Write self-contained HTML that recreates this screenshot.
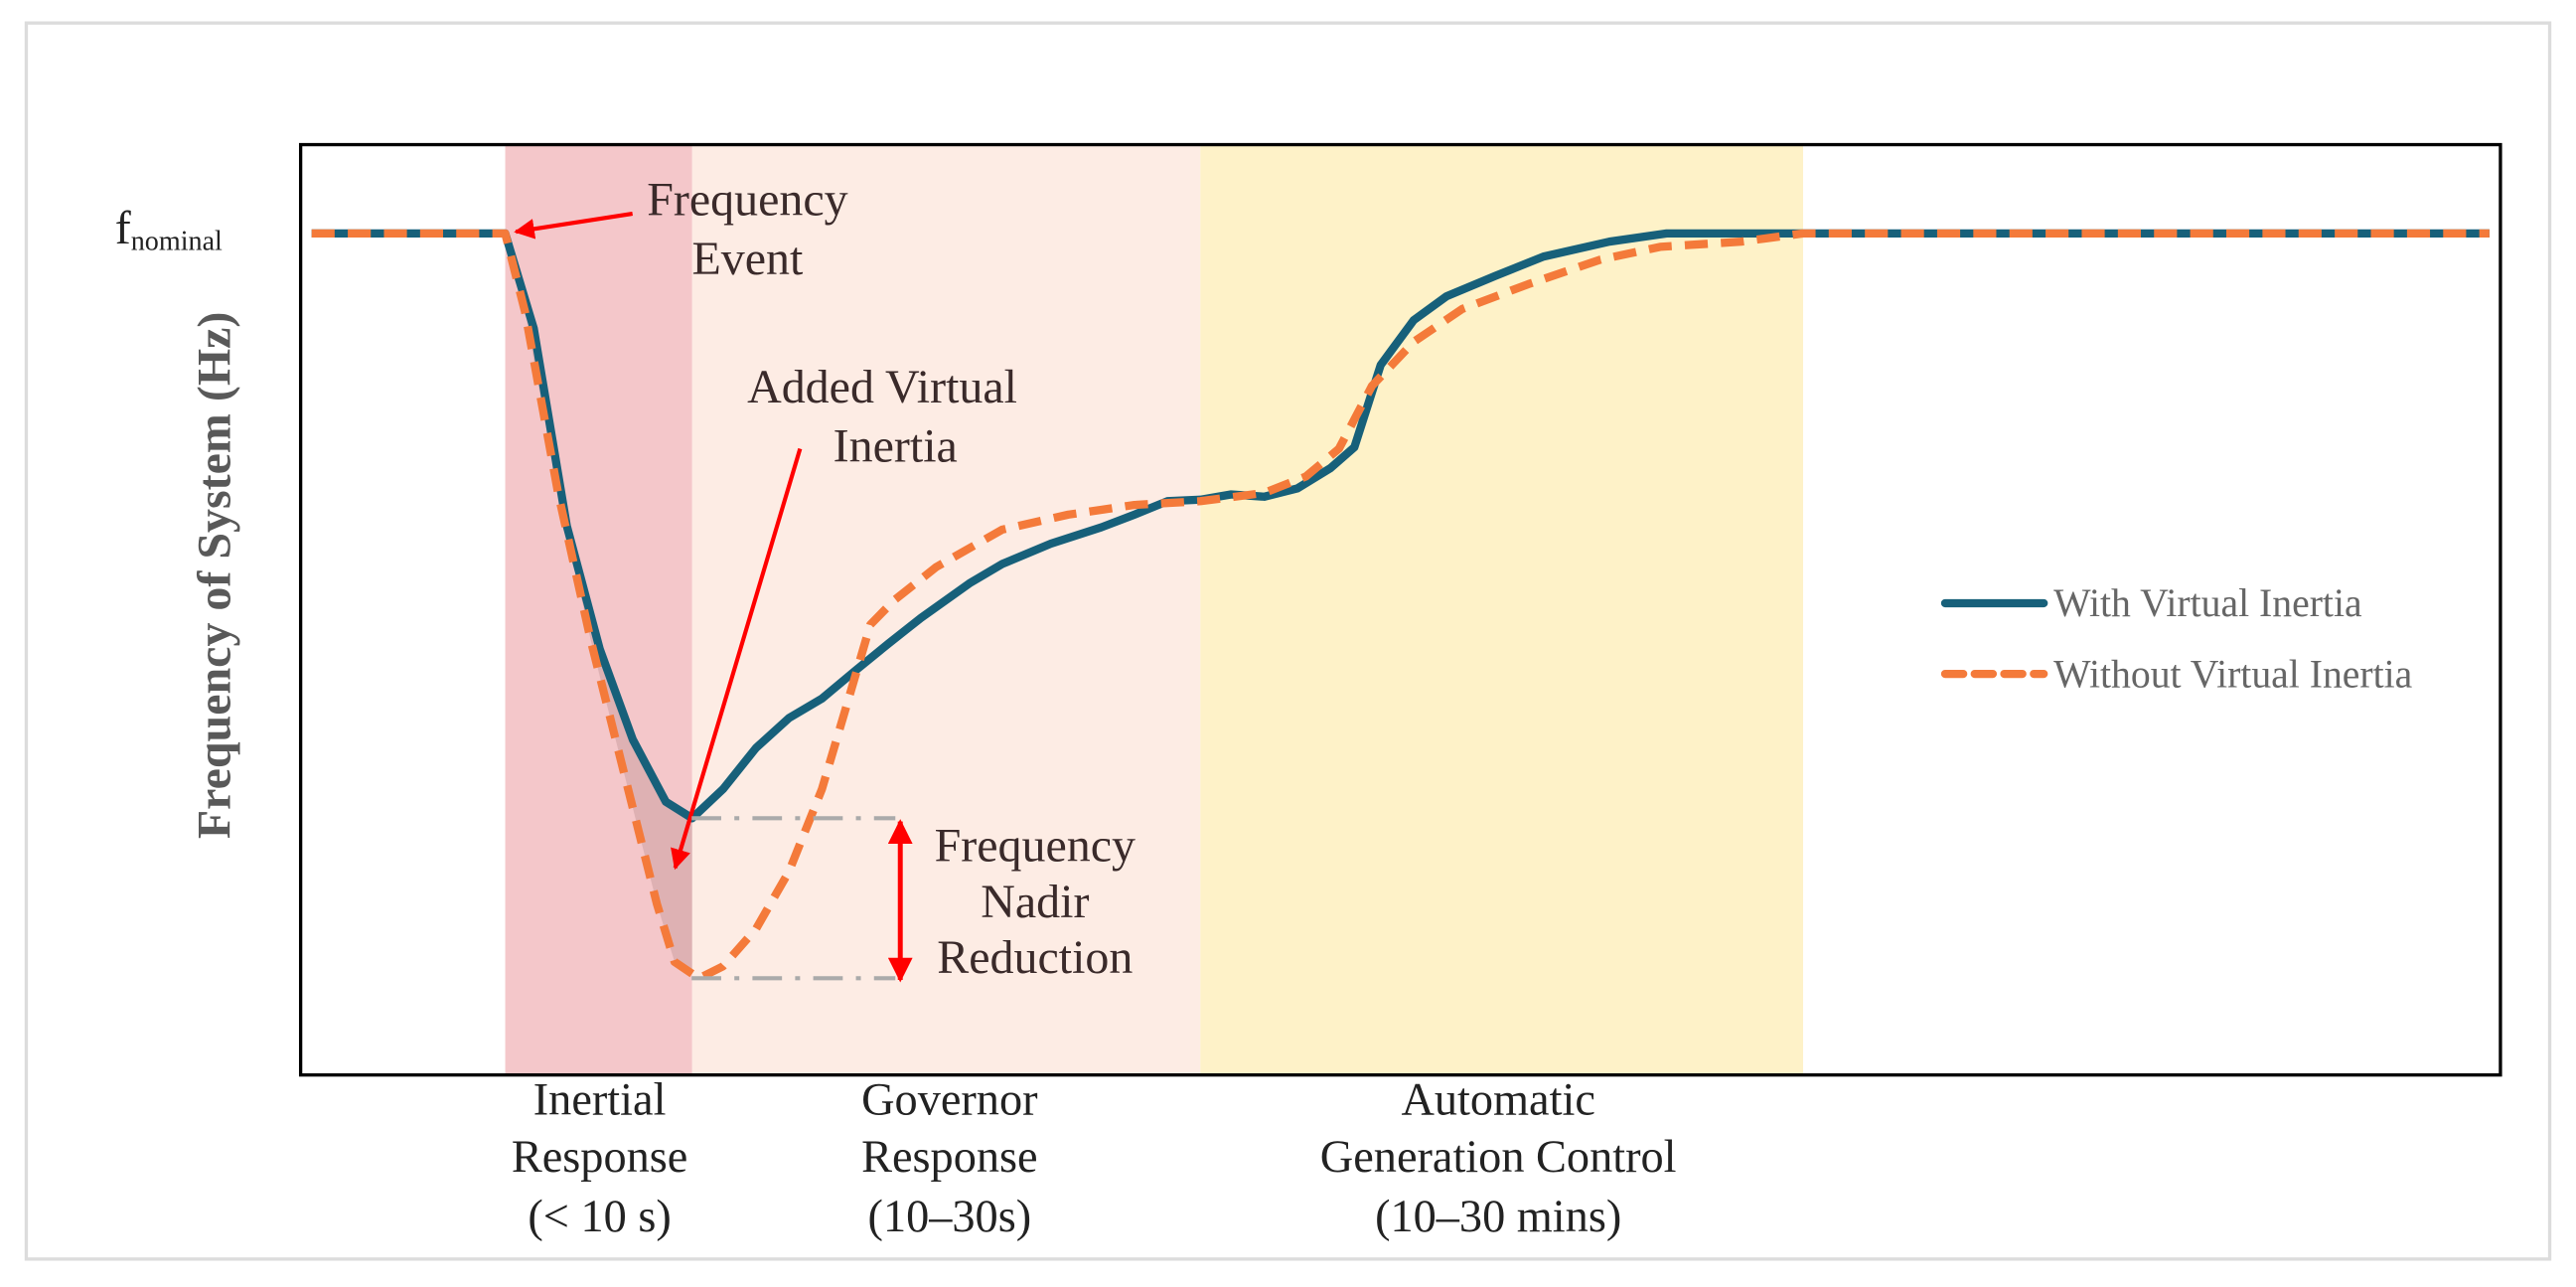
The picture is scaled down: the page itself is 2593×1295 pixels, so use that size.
<!DOCTYPE html>
<html><head><meta charset="utf-8"><style>
html,body{margin:0;padding:0;background:#fff;}
svg{display:block;}
text{font-family:"Liberation Serif",serif;}
</style></head><body>
<svg id="chart" width="2593" height="1295" viewBox="0 0 1568 783" preserveAspectRatio="none" xmlns="http://www.w3.org/2000/svg">
<defs>
<marker id="ah" viewBox="0 0 10 10" refX="9" refY="5" markerWidth="5" markerHeight="5" orient="auto-start-reverse"><path d="M0,0 L10,5 L0,10 z" fill="#f00"/></marker>
<clipPath id="inclip"><rect id="inclipr" x="0" y="0" width="0" height="0"/></clipPath>
</defs>
<rect x="16" y="14" width="1536" height="752" fill="#fff" stroke="#dcdcdc" stroke-width="2"/>
<g id="bands"></g>
<path id="gap" fill="#9a7070" fill-opacity="0.25" clip-path="url(#inclip)"/>
<g id="lines"></g>
<rect x="183" y="88" width="1339" height="566" fill="none" stroke="#000" stroke-width="2"/>
<text x="70" y="148" font-size="29" fill="#222">f<tspan font-size="17" dy="4">nominal</tspan></text>
<text transform="translate(140,350) rotate(-90)" text-anchor="middle" font-size="29" font-weight="bold" fill="#595959">Frequency of System (Hz)</text>
<g>
<line x1="385" y1="130" x2="314" y2="141" stroke="#f00" stroke-width="2.5" marker-end="url(#ah)"/>
<text x="455" y="131" text-anchor="middle" font-size="29" fill="#3a2a2a">Frequency</text>
<text x="455" y="167" text-anchor="middle" font-size="29" fill="#3a2a2a">Event</text>
</g>
<g>
<line x1="487" y1="273" x2="411" y2="528" stroke="#f00" stroke-width="2.5" marker-end="url(#ah)"/>
<text x="537" y="245" text-anchor="middle" font-size="29" fill="#3a2a2a">Added Virtual</text>
<text x="545" y="281" text-anchor="middle" font-size="29" fill="#3a2a2a">Inertia</text>
</g>
<g>
<line id="nad1" x1="421" x2="545" stroke="#aaa" stroke-width="2.5" stroke-dasharray="18,8,3,8"/>
<line id="nad2" x1="421" x2="545" stroke="#aaa" stroke-width="2.5" stroke-dasharray="18,8,3,8"/>
<line id="nadarrow" x1="548" x2="548" stroke="#f00" stroke-width="3" marker-start="url(#ah)" marker-end="url(#ah)"/>
<text x="630" y="524" text-anchor="middle" font-size="29" fill="#3a2a2a">Frequency</text>
<text x="630" y="558" text-anchor="middle" font-size="29" fill="#3a2a2a">Nadir</text>
<text x="630" y="592" text-anchor="middle" font-size="29" fill="#3a2a2a">Reduction</text>
</g>
<g font-size="28" fill="#222" text-anchor="middle">
<text x="365" y="678">Inertial</text><text x="365" y="713">Response</text><text x="365" y="749">(&lt; 10 s)</text></g>
<g font-size="28" fill="#222" text-anchor="middle">
<text x="578" y="678">Governor</text><text x="578" y="713">Response</text><text x="578" y="749">(10–30s)</text></g>
<g font-size="28" fill="#222" text-anchor="middle">
<text x="912" y="678">Automatic</text><text x="912" y="713">Generation Control</text><text x="912" y="749">(10–30 mins)</text></g>
<g>
<g><line x1="1184" y1="367" x2="1244" y2="367" stroke="#17607a" stroke-width="5" stroke-linecap="round"/><text x="1250" y="375" font-size="24" fill="#666">With Virtual Inertia</text></g>
<g><line x1="1184" y1="410" x2="1244" y2="410" stroke="#f47a3a" stroke-width="5" stroke-dasharray="11,7" stroke-linecap="round"/><text x="1250" y="418" font-size="24" fill="#666">Without Virtual Inertia</text></g>
</g>
</svg>
<script>
const bandNames=['inertial-response-band','governor-response-band','agc-band'];
const bandStart=[9.3,17.8,40.9];
const bandEnd=[17.8,40.9,68.3];
const bandColors=['#f4c7ca','#fdece4','#fef2c8'];
const tWith=[0.5,9.3,10.6,12.1,13.6,15.1,16.6,17.8,19.2,20.7,22.2,23.7,25.2,26.7,28.2,30.4,31.9,34.1,36.4,37.9,39.4,40.9,42.3,43.8,45.3,46.8,47.9,49.1,50.6,52.1,54.3,56.5,59.5,62.1,68.3,99.5];
const fWith=[50,50,49.873,49.609,49.444,49.323,49.240,49.218,49.257,49.312,49.352,49.378,49.415,49.451,49.486,49.532,49.558,49.585,49.607,49.624,49.642,49.644,49.651,49.648,49.659,49.686,49.714,49.824,49.884,49.916,49.943,49.969,49.989,50,50,50];
const tWithout=[0.5,9.3,10.2,11.7,13.2,14.7,16.2,17.0,18.1,19.2,20.7,22.2,23.7,24.8,25.9,27.0,28.9,31.9,34.9,37.9,40.9,43.8,45.7,47.2,48.7,50.6,52.8,55.8,59.1,61.8,65.5,68.3,99.5];
const fWithout=[50,50,49.895,49.653,49.455,49.279,49.103,49.026,49.004,49.020,49.070,49.147,49.257,49.367,49.477,49.510,49.554,49.604,49.624,49.637,49.642,49.653,49.675,49.712,49.796,49.855,49.899,49.932,49.965,49.982,49.989,50,50];
const nadirWith=49.218, nadirWithout=49.004;
const X0=183,XW=1339,PT=88,PH=566;
const xs=t=>X0+t/100*XW;
const ys=f=>142+(50-f)*455;
const NS='http://www.w3.org/2000/svg';
const bands=document.getElementById('bands');
for(let i=0;i<bandStart.length;i++){
 const r=document.createElementNS(NS,'rect');
 
 
 r.setAttribute('x',xs(bandStart[i]));r.setAttribute('y',PT);
 r.setAttribute('width',xs(bandEnd[i])-xs(bandStart[i]));r.setAttribute('height',PH);
 r.setAttribute('fill',bandColors[i]);bands.appendChild(r);
}
const cr=document.getElementById('inclipr');
cr.setAttribute('x',xs(bandStart[0]));cr.setAttribute('y',PT);
cr.setAttribute('width',xs(bandEnd[0])-xs(bandStart[0]));cr.setAttribute('height',PH);
const pts=(T,F)=>T.map((t,i)=>xs(t).toFixed(1)+','+ys(F[i]).toFixed(1));
const a=pts(tWith,fWith), b=pts(tWithout,fWithout).reverse();
document.getElementById('gap').setAttribute('d','M'+a.join('L')+'L'+b.join('L')+'Z');
const lines=document.getElementById('lines');
function mk(T,F,name,color,dash){
 const p=document.createElementNS(NS,'polyline');
 
 
 p.setAttribute('points',pts(T,F).join(' '));
 p.setAttribute('fill','none');p.setAttribute('stroke',color);p.setAttribute('stroke-width','5');
 p.setAttribute('stroke-linejoin','round');
 if(dash)p.setAttribute('stroke-dasharray',dash);
 lines.appendChild(p);
}
mk(tWith,fWith,'with-virtual-inertia-line','#17607a',null);
mk(tWithout,fWithout,'without-virtual-inertia-line','#f47a3a','14,8');
const n1=document.getElementById('nad1'),n2=document.getElementById('nad2'),na=document.getElementById('nadarrow');
n1.setAttribute('y1',ys(nadirWith));n1.setAttribute('y2',ys(nadirWith));
n2.setAttribute('y1',ys(nadirWithout));n2.setAttribute('y2',ys(nadirWithout));
na.setAttribute('y1',ys(nadirWith)+2);na.setAttribute('y2',ys(nadirWithout)+1);
</script>
</body></html>
